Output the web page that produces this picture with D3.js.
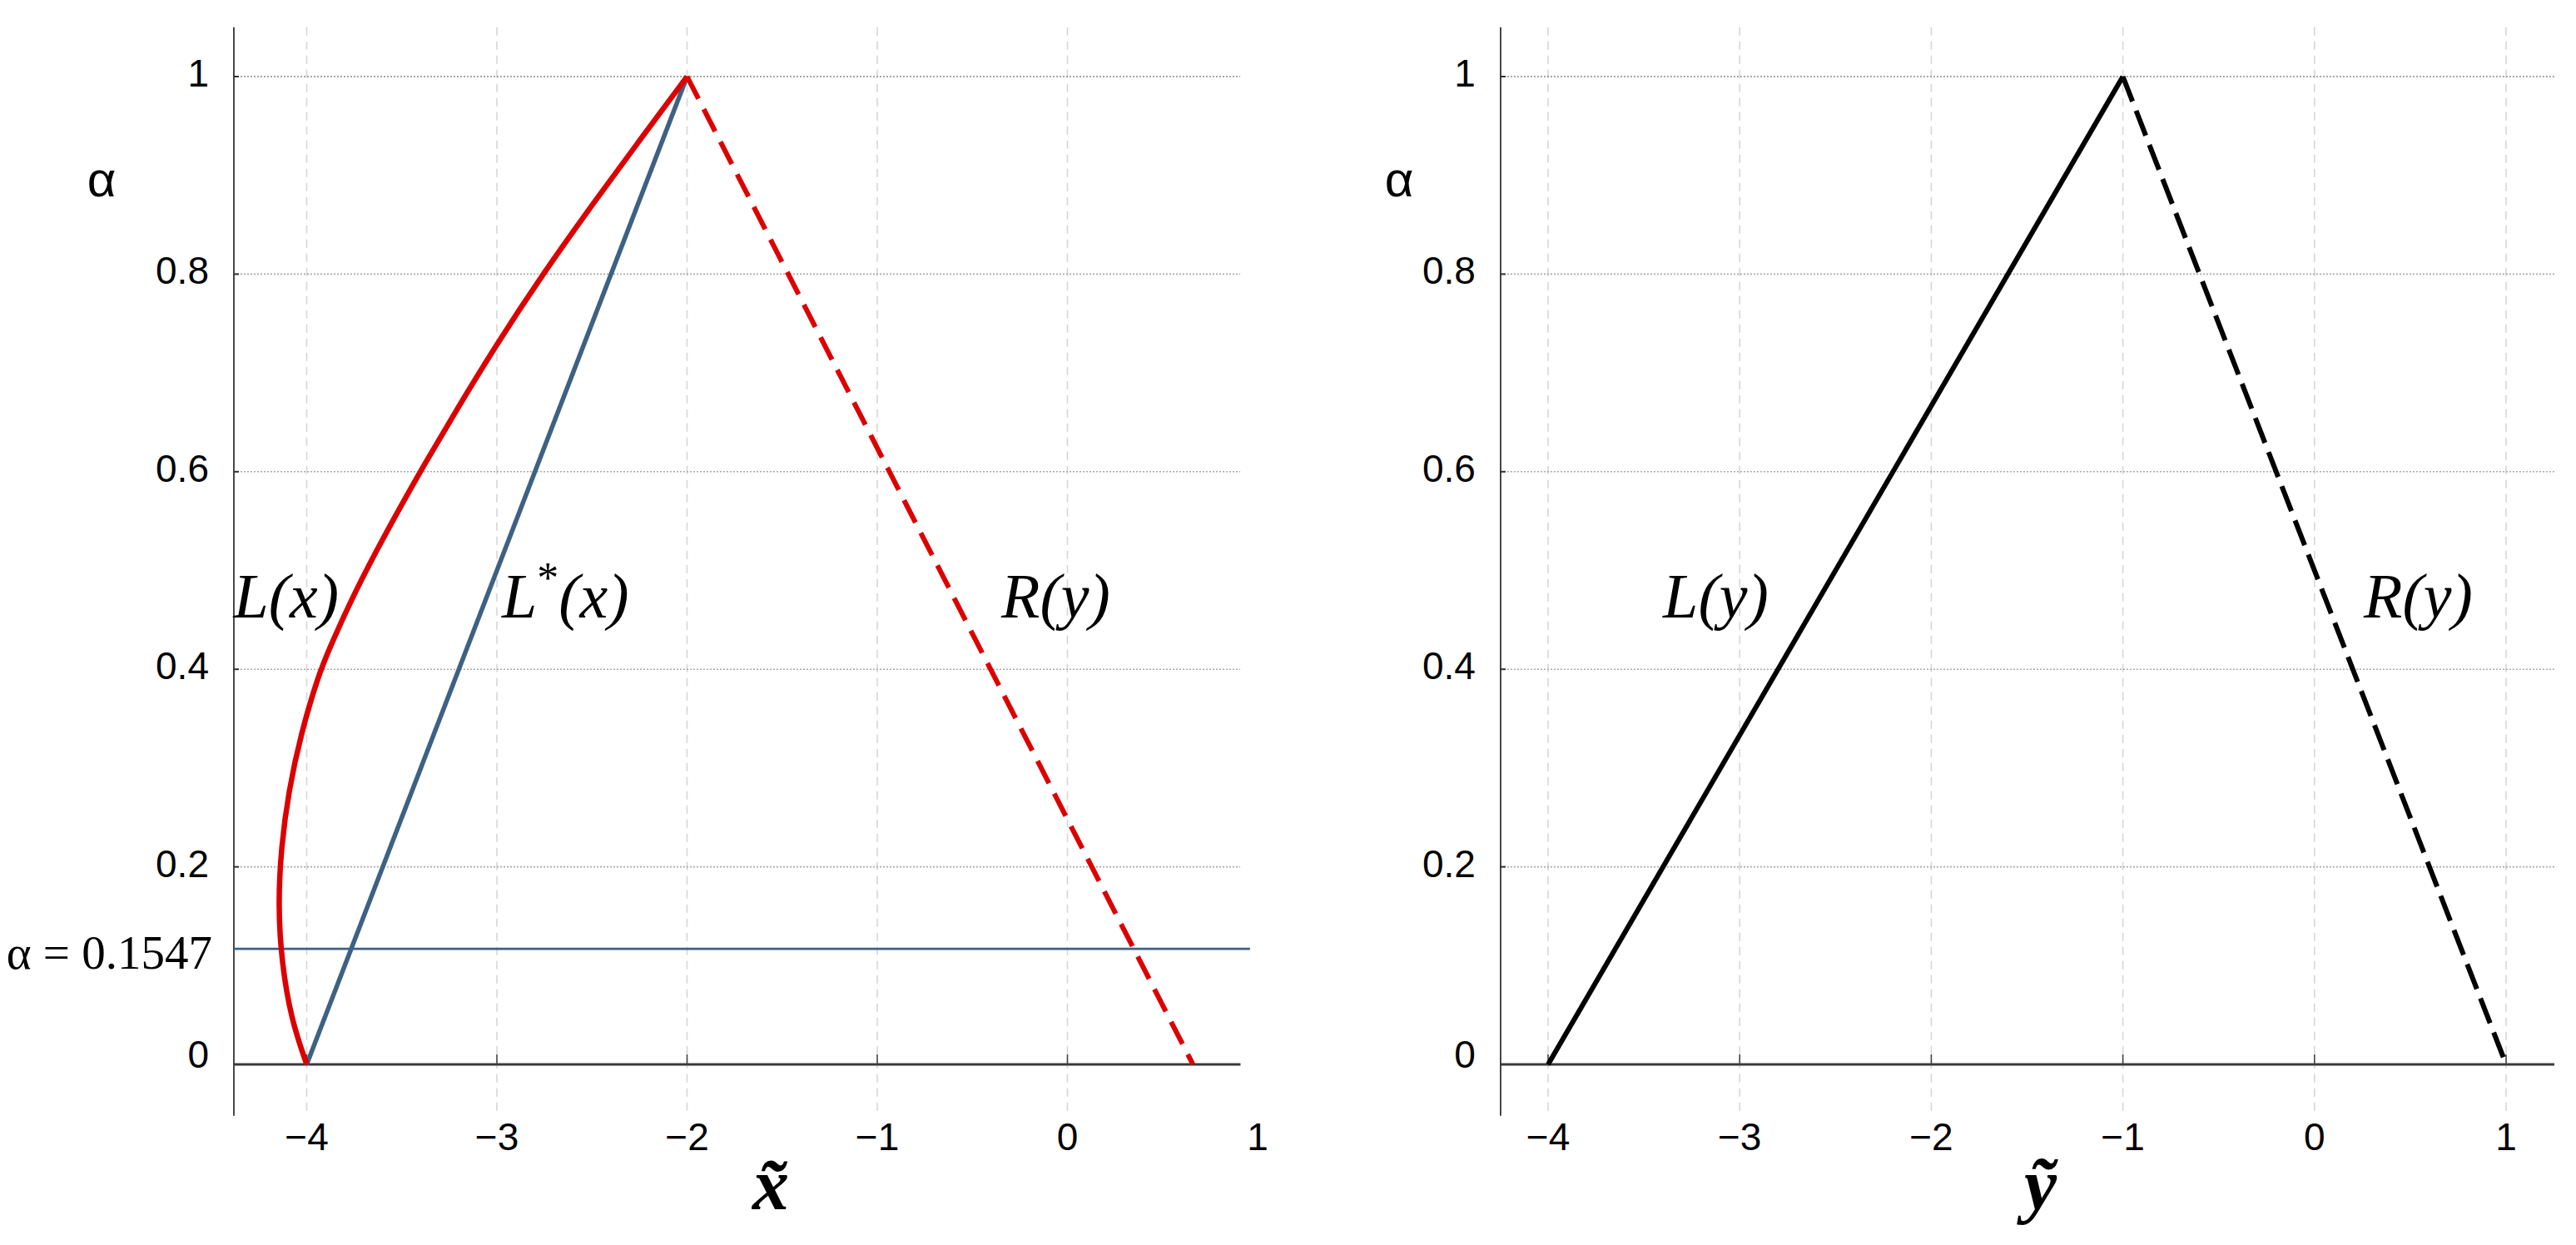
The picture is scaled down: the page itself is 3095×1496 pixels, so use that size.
<!DOCTYPE html>
<html><head><meta charset="utf-8">
<script src="https://cdn.jsdelivr.net/npm/d3@7"></script>
<style>html,body{margin:0;padding:0;background:#fff;} svg{display:block}</style>
</head><body>
<script>
// ---------- data ----------
const xTicks = [-4, -3, -2, -1, 0, 1];
const xTickLabels = ["−4", "−3", "−2", "−1", "0", "1"];
const yTicks = [0, 0.2, 0.4, 0.6, 0.8, 1];
const yTickLabels = ["0", "0.2", "0.4", "0.6", "0.8", "1"];

// left panel: L(x) curve (alpha, x)
const lAlpha = [0, 0.045, 0.103, 0.161, 0.219, 0.277, 0.335, 0.393, 0.42, 0.47, 0.521, 0.567, 0.606, 0.66, 0.724, 0.8, 0.88, 0.94, 1];
const lX     = [-4, -4.081, -4.132, -4.150, -4.135, -4.095, -4.030, -3.940, -3.883, -3.767, -3.631, -3.500, -3.385, -3.220, -3.018, -2.760, -2.462, -2.232, -2];
// L*(x)
const lStarAlpha = [0, 1];
const lStarX = [-4, -2];
// R(y) left panel
const rAlphaLeft = [1, 0];
const rXLeft = [-2, 0.66];
// alpha cut
const alphaCut = 0.117;
const alphaCutLabel = "α = 0.1547";
// right panel
const lyAlpha = [0, 1];
const lyX = [-4, -1];
const ryAlpha = [1, 0];
const ryX = [-1, 1];

// ---------- layout ----------
const W = 3095, H = 1496;
const svg = d3.select("body").append("svg").attr("width", W).attr("height", H)
  .style("background", "#fff");

const RED = "#dc0000", BLUE = "#3d6183";
const SANS = "'Liberation Sans', Arial, sans-serif";
const SERIF = "'Liberation Serif', 'Times New Roman', serif";

function panel(cfg) {
  const x = d3.scaleLinear().domain([-4, 1]).range(cfg.xr);
  const y = d3.scaleLinear().domain([0, 1]).range([1279, 92]);
  const g = svg.append("g");
  const fx0 = x(cfg.xmin), fx1 = x(cfg.xmax);
  const fy0 = y(-0.052), fy1 = y(1.05);

  g.selectAll(".vg").data(xTicks.filter(d => d >= cfg.xmin && d <= cfg.xmax)).join("line")
    .attr("x1", d => x(d)).attr("x2", d => x(d)).attr("y1", fy1).attr("y2", fy0)
    .attr("stroke", "#d6d6d6").attr("stroke-width", 1.6).attr("stroke-dasharray", "10,7");
  g.selectAll(".hg").data(yTicks.filter(d => d > 0)).join("line")
    .attr("x1", fx0).attr("x2", cfg.gridEnd).attr("y1", d => y(d)).attr("y2", d => y(d))
    .attr("stroke", d => d === 1 ? "#8a8a8a" : "#a8a8a8").attr("stroke-width", 1.6).attr("stroke-dasharray", "2,2");
  g.append("line").attr("x1", fx0).attr("x2", fx0).attr("y1", fy1).attr("y2", fy0)
    .attr("stroke", "#333").attr("stroke-width", 1.8);
  g.selectAll(".yt").data(yTicks).join("line")
    .attr("x1", fx0).attr("x2", fx0 + 6).attr("y1", d => y(d)).attr("y2", d => y(d))
    .attr("stroke", "#333").attr("stroke-width", 2);
  g.append("line").attr("x1", fx0).attr("x2", fx1).attr("y1", y(0)).attr("y2", y(0))
    .attr("stroke", "#3a3a3a").attr("stroke-width", 3);
  g.selectAll(".xt").data(xTicks.filter(d => d >= cfg.xmin && d <= cfg.xmax)).join("line")
    .attr("x1", d => x(d)).attr("x2", d => x(d)).attr("y1", y(0)).attr("y2", y(0) - 12)
    .attr("stroke", "#444").attr("stroke-width", 1.6);
  g.selectAll(".yl").data(yTicks).join("text")
    .attr("x", fx0 - 30).attr("y", d => y(d) + (d === 0 ? 4 : 12))
    .attr("text-anchor", "end").attr("font-family", SANS).attr("font-size", 46)
    .text((d, i) => yTickLabels[i]);
  g.selectAll(".xl").data(xTicks).join("text")
    .attr("x", d => x(d)).attr("y", 1382)
    .attr("text-anchor", "middle").attr("font-family", SANS).attr("font-size", 46)
    .text((d, i) => xTickLabels[i]);
  g.append("text").attr("x", cfg.alphaX).attr("y", 236).attr("text-anchor", "middle")
    .attr("font-family", SANS).attr("font-size", 60).text("α");
  return {x, y, g, fx0};
}

const L = panel({xr: [368.5, 1511], xmin: -4.383, xmax: 0.91, gridEnd: 1490, alphaX: 122});
const R = panel({xr: [1860, 3011], xmin: -4.248, xmax: 1.252, gridEnd: 3069, alphaX: 1681});

function drawLine(p, xs, as, color, width, dash, curve) {
  const pts = xs.map((v, i) => [v, as[i]]);
  const line = d3.line().x(d => p.x(d[0])).y(d => p.y(d[1])).curve(curve || d3.curveLinear);
  p.g.append("path").attr("d", line(pts)).attr("fill", "none").attr("stroke", color)
    .attr("stroke-width", width).attr("stroke-linejoin", "round").attr("stroke-linecap", "butt")
    .attr("stroke-dasharray", dash || null);
}

// left panel
L.g.append("line").attr("x1", L.fx0).attr("x2", L.x(0.96))
  .attr("y1", L.y(alphaCut)).attr("y2", L.y(alphaCut))
  .attr("stroke", BLUE).attr("stroke-width", 2.6);
drawLine(L, lStarX, lStarAlpha, BLUE, 5.5);
drawLine(L, rXLeft, rAlphaLeft, RED, 6, "30,14");
drawLine(L, lX, lAlpha, RED, 6.5, null, d3.curveBasis);

// right panel
drawLine(R, lyX, lyAlpha, "#000", 6);
drawLine(R, ryX, ryAlpha, "#000", 6, "32,12");

// alpha cut label
svg.append("text").attr("x", 255).attr("y", L.y(alphaCut) + 24).attr("text-anchor", "end")
  .attr("font-family", SERIF).attr("font-size", 57).text(alphaCutLabel);

// curve labels
function fnLabel(p, xv, av, parts) {
  const t = svg.append("text").attr("x", p.x(xv)).attr("y", p.y(av))
    .attr("font-family", SERIF).attr("font-style", "italic").attr("font-size", 76);
  parts.forEach(s => {
    if (s === "*") t.append("tspan").attr("font-size", 52).attr("dy", -30).attr("font-style", "normal").text("*");
    else if (s.startsWith("_")) t.append("tspan").attr("dy", 30).text(s.slice(1));
    else t.append("tspan").text(s);
  });
}
fnLabel(L, -4.385, 0.452, ["L(x)"]);
fnLabel(L, -2.974, 0.452, ["L", "*", "_(x)"]);
fnLabel(L, -0.348, 0.452, ["R(y)"]);
fnLabel(R, -3.40, 0.452, ["L(y)"]);
fnLabel(R, 0.257, 0.452, ["R(y)"]);

// axis titles with tilde (combined characters)
function tildeLabel(cx, str) {
  svg.append("text").attr("x", cx).attr("y", 1453).attr("text-anchor", "middle")
    .attr("font-family", SERIF).attr("font-style", "italic").attr("font-weight", "bold")
    .attr("font-size", 88).text(str);
}
tildeLabel(L.x(-1.56), "x\u0303");
tildeLabel(R.x(-1.43), "\u1EF9");
</script>
</body></html>
